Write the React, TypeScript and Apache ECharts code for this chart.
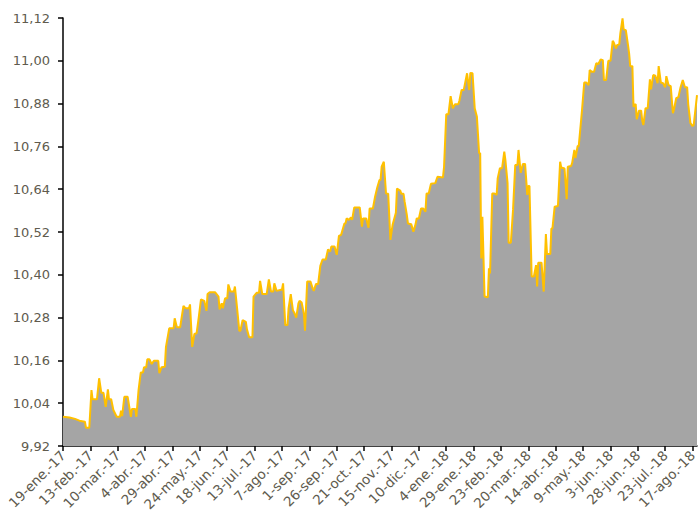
import React, { useEffect, useRef } from 'react';
import * as echarts from 'echarts';

// Daily category axis from 19-ene.-17 to 21-ago.-18
const startYear = 2017;
const startMonth = 0;
const startDay = 19;
const dayCount = 580;
const monthNames = ['ene.', 'feb.', 'mar.', 'abr.', 'may.', 'jun.', 'jul.', 'ago.', 'sep.', 'oct.', 'nov.', 'dic.'];

const yTicks = [9.92, 10.04, 10.16, 10.28, 10.4, 10.52, 10.64, 10.76, 10.88, 11.0, 11.12];

// days since 19-ene.-17
const dayOffsets = [
  0, 6, 11, 15, 20, 21, 24, 26, 27, 31, 33, 35, 37, 39, 41, 42, 44, 46, 49, 52,
  53, 54, 56, 59, 62, 63, 66, 67, 69, 71, 73, 74, 76, 77, 79, 81, 83, 87, 88, 90,
  93, 94, 97, 101, 102, 104, 107, 110, 112, 115, 116, 118, 120, 122, 124, 126, 129, 131, 132, 134,
  139, 142, 143, 145, 146, 148, 150, 151, 153, 156, 157, 159, 161, 162, 164, 167, 168, 170, 173, 174,
  177, 179, 180, 182, 186, 188, 190, 192, 193, 195, 200, 201, 203, 205, 206, 208, 210, 211, 213, 215,
  216, 218, 220, 221, 223, 226, 228, 229, 231, 233, 235, 237, 240, 242, 244, 245, 248, 250, 252, 254,
  257, 258, 259, 261, 263, 264, 266, 271, 273, 274, 277, 279, 280, 283, 285, 287, 289, 290, 291, 293,
  295, 297, 299, 301, 304, 305, 308, 309, 311, 312, 314, 315, 318, 320, 322, 323, 325, 327, 329, 331,
  332, 334, 336, 340, 342, 347, 348, 350, 352, 354, 356, 358, 361, 362, 364, 366, 369, 371, 372, 374,
  376, 378, 380, 381, 382, 383, 385, 388, 389, 390, 392, 394, 396, 397, 399, 401, 403, 404, 406, 407,
  409, 411, 413, 415, 416, 418, 420, 422, 424, 425, 426, 428, 430, 432, 433, 434, 437, 439, 441, 442,
  445, 446, 447, 449, 452, 454, 455, 458, 460, 461, 464, 465, 467, 468, 470, 471, 474, 476, 478, 480,
  481, 483, 485, 487, 489, 491, 493, 494, 496, 498, 500, 502, 503, 505, 506, 508, 509, 511, 512, 514,
  516, 517, 518, 520, 521, 523, 524, 526, 528, 529, 530, 532, 534, 536, 537, 539, 541, 543, 544, 546,
  548, 550, 551, 553, 555, 557, 558, 560, 562, 564, 566, 568, 570, 571, 573, 575, 576, 578, 579,
];

const values = [
  10.002, 10.0, 9.996, 9.991, 9.988, 9.971, 9.971, 10.077, 10.051, 10.051, 10.11, 10.069, 10.069, 10.03, 10.079, 10.051, 10.051, 10.021, 10.002, 10.002,
  10.019, 10.004, 10.058, 10.058, 10.002, 10.024, 10.024, 10.002, 10.077, 10.126, 10.126, 10.141, 10.141, 10.163, 10.163, 10.15, 10.159, 10.159, 10.124, 10.141,
  10.142, 10.197, 10.25, 10.25, 10.278, 10.253, 10.253, 10.313, 10.306, 10.306, 10.317, 10.198, 10.234, 10.236, 10.281, 10.331, 10.327, 10.299, 10.346, 10.351,
  10.351, 10.339, 10.303, 10.32, 10.306, 10.334, 10.334, 10.373, 10.353, 10.353, 10.367, 10.306, 10.243, 10.243, 10.273, 10.268, 10.247, 10.225, 10.225, 10.339,
  10.35, 10.35, 10.383, 10.346, 10.346, 10.387, 10.353, 10.353, 10.376, 10.355, 10.359, 10.376, 10.259, 10.259, 10.306, 10.346, 10.3, 10.295, 10.28, 10.32,
  10.327, 10.322, 10.29, 10.243, 10.381, 10.381, 10.362, 10.355, 10.374, 10.374, 10.425, 10.443, 10.443, 10.471, 10.465, 10.479, 10.479, 10.456, 10.509, 10.512,
  10.544, 10.544, 10.558, 10.554, 10.561, 10.554, 10.589, 10.589, 10.535, 10.558, 10.558, 10.532, 10.586, 10.586, 10.619, 10.645, 10.666, 10.666, 10.703, 10.717,
  10.628, 10.627, 10.498, 10.54, 10.574, 10.642, 10.636, 10.627, 10.627, 10.605, 10.568, 10.544, 10.542, 10.521, 10.542, 10.558, 10.558, 10.586, 10.586, 10.577,
  10.628, 10.628, 10.655, 10.657, 10.675, 10.673, 10.703, 10.85, 10.85, 10.901, 10.867, 10.878, 10.878, 10.888, 10.918, 10.918, 10.965, 10.918, 10.966, 10.965,
  10.867, 10.843, 10.741, 10.741, 10.446, 10.563, 10.339, 10.337, 10.418, 10.404, 10.628, 10.628, 10.624, 10.671, 10.699, 10.699, 10.745, 10.722, 10.657, 10.49,
  10.49, 10.582, 10.708, 10.708, 10.75, 10.686, 10.711, 10.711, 10.624, 10.649, 10.649, 10.395, 10.395, 10.427, 10.367, 10.434, 10.434, 10.353, 10.514, 10.458,
  10.458, 10.53, 10.53, 10.591, 10.593, 10.717, 10.701, 10.698, 10.612, 10.703, 10.705, 10.714, 10.75, 10.727, 10.761, 10.761, 10.862, 10.939, 10.939, 10.932,
  10.974, 10.969, 10.969, 10.993, 10.991, 11.004, 11.002, 10.946, 10.946, 11.0, 11.0, 11.056, 11.051, 11.035, 11.044, 11.046, 11.077, 11.119, 11.088, 11.086,
  11.044, 11.021, 10.985, 10.985, 10.871, 10.879, 10.836, 10.86, 10.86, 10.832, 10.82, 10.867, 10.867, 10.948, 10.92, 10.96, 10.958, 10.937, 10.985, 10.939,
  10.937, 10.926, 10.957, 10.932, 10.929, 10.853, 10.864, 10.895, 10.898, 10.926, 10.946, 10.926, 10.926, 10.878, 10.825, 10.817, 10.82, 10.876, 10.904,
];

const textColor = '#605b4e';
const fontFamily = '"DejaVu Sans", sans-serif';

export default function App() {
  const ref = useRef<HTMLDivElement>(null);

  useEffect(() => {
    document.body.style.margin = '0';
    document.body.style.overflow = 'hidden';
    if (!ref.current) return;
    const chart = echarts.init(ref.current, null, { renderer: 'svg' });
    const start = Date.UTC(startYear, startMonth, startDay);
    const categories = Array.from({ length: dayCount }, (_, i) => {
      const d = new Date(start + i * 86400000);
      return `${d.getUTCDate()}-${monthNames[d.getUTCMonth()]}-${String(d.getUTCFullYear()).slice(2)}`;
    });

    chart.setOption({
      animation: false,
      grid: { left: 63, right: 2, top: 18, bottom: 67, containLabel: false, outerBoundsMode: 'none' },
      xAxis: {
        type: 'category',
        data: categories,
        boundaryGap: false,
        axisLine: { show: true, lineStyle: { color: '#000', width: 1.5 } },
        axisTick: { show: true, interval: 24, length: 5, lineStyle: { color: '#000', width: 1.5 } },
        axisLabel: {
          interval: 24,
          rotate: 45,
          color: textColor,
          fontFamily,
          fontSize: 13.5,
          margin: 7,
        },
        splitLine: { show: false },
      },
      yAxis: {
        type: 'value',
        min: 9.92,
        max: 11.12,
        axisLine: { show: true, lineStyle: { color: '#000', width: 1.5 } },
        axisTick: { show: true, length: 5, customValues: yTicks, lineStyle: { color: '#000', width: 1.5 } },
        axisLabel: {
          customValues: yTicks,
          color: textColor,
          fontFamily,
          fontSize: 13,
          margin: 13,
          formatter: (v: number) => v.toFixed(2).replace('.', ','),
        },
        splitLine: { show: false },
      },
      series: [
        {
          type: 'line',
          data: dayOffsets.map((d, i) => [d, values[i]]),
          symbol: 'none',
          showSymbol: false,
          lineStyle: { color: '#FFC000', width: 2 },
          itemStyle: { color: '#FFC000' },
          areaStyle: { color: '#A5A5A5', opacity: 1 },
        },
      ],
    });
    return () => chart.dispose();
  }, []);

  return <div ref={ref} style={{ width: 699, height: 513, overflow: 'hidden' }} />;
}
